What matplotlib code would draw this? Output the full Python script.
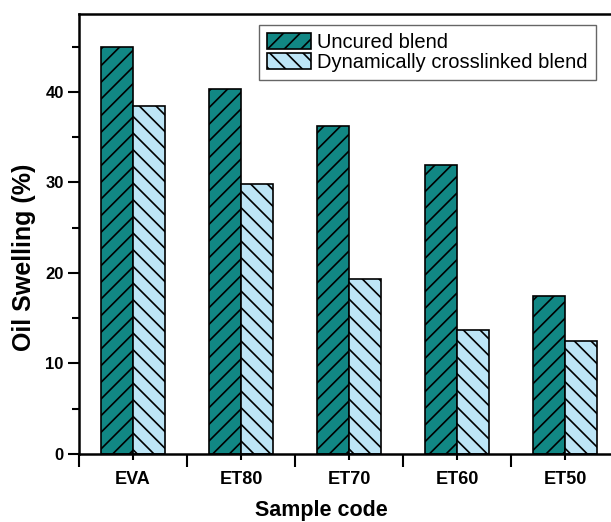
import matplotlib
matplotlib.use("Agg")
import matplotlib.pyplot as plt
import numpy as np

plt.rcParams['font.family'] = ['Liberation Sans', 'DejaVu Sans']
plt.rcParams['hatch.linewidth'] = 1.2

categories = ["EVA", "ET80", "ET70", "ET60", "ET50"]
uncured = [44.9, 40.3, 36.2, 31.9, 17.5]
crosslinked = [38.4, 29.8, 19.3, 13.7, 12.5]
series_labels = ["Uncured blend", "Dynamically crosslinked blend"]

fig = plt.figure(figsize=(6.11, 5.22), dpi=100)
ax = fig.add_axes([79/611, 1-454/522, (619-79)/611, (454-14)/522])

x = np.arange(len(categories))
w = 0.3
ax.bar(x - w/2, uncured, w, color="#118784", edgecolor="black", linewidth=1.2,
       hatch="//", label=series_labels[0])
ax.bar(x + w/2, crosslinked, w, color="#bde5f6", edgecolor="black", linewidth=1.2,
       hatch="\\\\", label=series_labels[1])

ax.set_xlim(-0.5, 4.5)
ax.set_ylim(0, 48.6)
ax.set_yticks([0, 10, 20, 30, 40])
ax.set_yticks([5, 15, 25, 35, 45], minor=True)
ax.set_xticks(x)
ax.set_xticklabels(categories, fontsize=13, fontweight="bold")
ax.set_xticks(np.arange(-0.5, 5.0, 1.0), minor=True)
for lab in ax.get_yticklabels():
    lab.set_fontsize(12)
    lab.set_fontweight("bold")

ax.tick_params(axis="y", which="major", direction="out", length=8, width=1.5, pad=3)
ax.tick_params(axis="y", which="minor", direction="out", length=5, width=1.5)
ax.tick_params(axis="x", which="major", direction="out", length=4, width=1.5, pad=8)
ax.tick_params(axis="x", which="minor", direction="out", length=9, width=1.5)

for s in ax.spines.values():
    s.set_linewidth(1.8)

ax.set_xlabel("Sample code", fontsize=15.5, fontweight="bold")
ax.set_ylabel("Oil Swelling (%)", fontsize=18, fontweight="bold")
ax.xaxis.set_label_coords(0.448, -0.105)
ax.yaxis.set_label_coords(-0.0795, 0.448)

leg = ax.legend(loc="upper right", bbox_to_anchor=(596/611, 1-25/522),
                bbox_transform=fig.transFigure, borderaxespad=0,
                fontsize=14.5, fancybox=False, edgecolor="#666666",
                handlelength=2.2, handleheight=0.8, handletextpad=0.3,
                labelspacing=0.05, borderpad=0.4, framealpha=1)
leg.get_frame().set_linewidth(1.0)

fig.savefig("out.png", dpi=100)
